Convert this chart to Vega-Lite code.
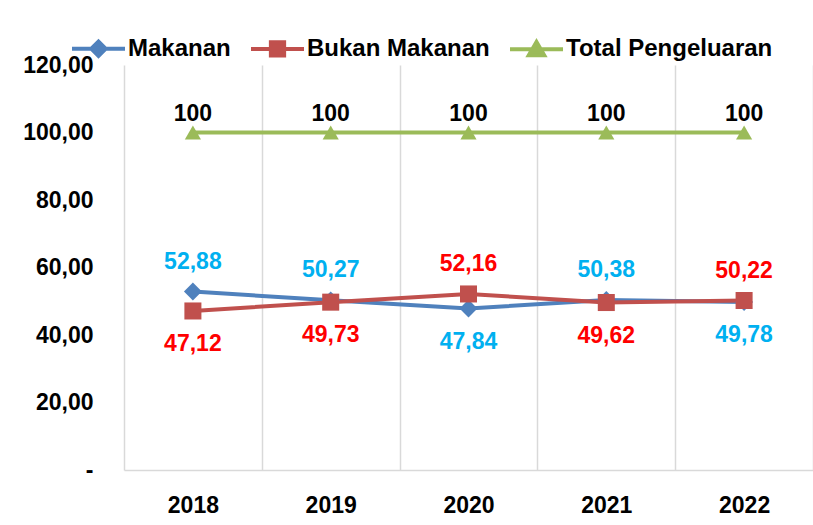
{
  "$schema": "https://vega.github.io/schema/vega-lite/v6.json",
  "width": 689,
  "height": 405,
  "autosize": {"type": "none"},
  "padding": {"left": 124, "top": 65, "right": 0, "bottom": 55},
  "background": "white",
  "config": {"view": {"stroke": null}, "font": "Liberation Sans"},
  "data": {
    "values": [
      {"year": "2018", "series": "Makanan", "value": 52.88},
      {"year": "2019", "series": "Makanan", "value": 50.27},
      {"year": "2020", "series": "Makanan", "value": 47.84},
      {"year": "2021", "series": "Makanan", "value": 50.38},
      {"year": "2022", "series": "Makanan", "value": 49.78},
      {"year": "2018", "series": "Bukan Makanan", "value": 47.12},
      {"year": "2019", "series": "Bukan Makanan", "value": 49.73},
      {"year": "2020", "series": "Bukan Makanan", "value": 52.16},
      {"year": "2021", "series": "Bukan Makanan", "value": 49.62},
      {"year": "2022", "series": "Bukan Makanan", "value": 50.22},
      {"year": "2018", "series": "Total Pengeluaran", "value": 100},
      {"year": "2019", "series": "Total Pengeluaran", "value": 100},
      {"year": "2020", "series": "Total Pengeluaran", "value": 100},
      {"year": "2021", "series": "Total Pengeluaran", "value": 100},
      {"year": "2022", "series": "Total Pengeluaran", "value": 100}
    ]
  },
  "encoding": {
    "x": {
      "field": "year",
      "type": "ordinal",
      "scale": {"type": "band", "paddingInner": 0, "paddingOuter": 0},
      "axis": {
        "title": null,
        "labelAngle": 0,
        "labelFont": "Liberation Sans",
        "labelFontSize": 23,
        "labelFontWeight": "bold",
        "labelColor": "#000000",
        "labelPadding": 24,
        "ticks": false,
        "tickSize": 0,
        "tickBand": "extent",
        "grid": true,
        "gridColor": "#D9D9D9",
        "gridWidth": 1.5,
        "domainColor": "#D9D9D9",
        "domainWidth": 1.5
      }
    },
    "y": {
      "field": "value",
      "type": "quantitative",
      "scale": {"domain": [0, 120], "nice": false},
      "axis": {
        "title": null,
        "values": [0, 20, 40, 60, 80, 100, 120],
        "labelExpr": "datum.value == 0 ? '-' : replace(format(datum.value, '.2f'), '.', ',')",
        "labelFont": "Liberation Sans",
        "labelFontSize": 23,
        "labelFontWeight": "bold",
        "labelColor": "#000000",
        "labelPadding": 31,
        "ticks": false,
        "tickSize": 0,
        "domain": false,
        "grid": false
      }
    }
  },
  "layer": [
    {
      "mark": {"type": "line", "strokeWidth": 4},
      "encoding": {
        "color": {
          "field": "series",
          "type": "nominal",
          "scale": {
            "domain": ["Makanan", "Bukan Makanan", "Total Pengeluaran"],
            "range": ["#4F81BD", "#C0504D", "#9BBB59"]
          },
          "legend": {
            "title": null,
            "orient": "none",
            "direction": "horizontal",
            "legendX": -54,
            "legendY": -45,
            "padding": 0,
            "labelFont": "Liberation Sans",
            "labelFontSize": 24,
            "labelFontWeight": "bold",
            "labelColor": "#000000",
            "labelLimit": 0,
            "labelOffset": 1,
            "columnPadding": 12,
            "symbolSize": 2809,
            "symbolStrokeWidth": 4,
            "encode": {
              "symbols": {
                "update": {
                  "shape": {"signal": "datum.value === 'Makanan' ? 'M-1,0L1,0M-0.27,0L0,-0.27L0.27,0L0,0.27Z' : datum.value === 'Bukan Makanan' ? 'M-1,0L1,0M-0.25,-0.25L0.25,-0.25L0.25,0.25L-0.25,0.25Z' : 'M-1,0L1,0M0,-0.28L0.29,0.22L-0.29,0.22Z'"},
                  "fill": {"signal": "scale('color', datum.value)"},
                  "stroke": {"signal": "scale('color', datum.value)"},
                  "strokeWidth": {"value": 4},
                  "size": {"value": 2809},
                  "opacity": {"value": 1}
                }
              }
            }
          }
        }
      }
    },
    {
      "transform": [{"calculate": "datum.series", "as": "kind"}],
      "mark": {"type": "point", "filled": true, "opacity": 1},
      "encoding": {
        "fill": {
          "field": "kind",
          "type": "nominal",
          "scale": {
            "domain": ["Total Pengeluaran", "Makanan", "Bukan Makanan"],
            "range": ["#9BBB59", "#4F81BD", "#C0504D"]
          },
          "legend": null
        },
        "shape": {
          "field": "kind",
          "type": "nominal",
          "scale": {
            "domain": ["Bukan Makanan", "Total Pengeluaran", "Makanan"],
            "range": ["square", "triangle-up", "diamond"]
          },
          "legend": null
        },
        "size": {
          "field": "kind",
          "type": "nominal",
          "scale": {
            "domain": ["Total Pengeluaran", "Bukan Makanan", "Makanan"],
            "range": [260, 320, 260]
          },
          "legend": null
        }
      }
    },
    {
      "transform": [
        {"filter": "datum.series !== 'Total Pengeluaran'"},
        {"joinaggregate": [{"op": "max", "field": "value", "as": "mx"}], "groupby": ["year"]},
        {"filter": "datum.value === datum.mx"},
        {"calculate": "replace(format(datum.value, '.2f'), '.', ',')", "as": "lbl"}
      ],
      "mark": {"type": "text", "font": "Liberation Sans", "fontSize": 23, "fontWeight": "bold", "dy": -30},
      "encoding": {
        "text": {"field": "lbl"},
        "fill": {
          "field": "series",
          "type": "nominal",
          "scale": {"domain": ["Makanan", "Bukan Makanan"], "range": ["#00B0F0", "#FF0000"]},
          "legend": null
        }
      }
    },
    {
      "transform": [
        {"filter": "datum.series !== 'Total Pengeluaran'"},
        {"joinaggregate": [{"op": "max", "field": "value", "as": "mx"}], "groupby": ["year"]},
        {"filter": "datum.value < datum.mx"},
        {"calculate": "replace(format(datum.value, '.2f'), '.', ',')", "as": "lbl"}
      ],
      "mark": {"type": "text", "font": "Liberation Sans", "fontSize": 23, "fontWeight": "bold", "dy": 33},
      "encoding": {
        "text": {"field": "lbl"},
        "fill": {
          "field": "series",
          "type": "nominal",
          "scale": {"domain": ["Makanan", "Bukan Makanan"], "range": ["#00B0F0", "#FF0000"]},
          "legend": null
        }
      }
    },
    {
      "transform": [{"filter": "datum.series === 'Total Pengeluaran'"}],
      "mark": {"type": "text", "font": "Liberation Sans", "fontSize": 23, "fontWeight": "bold", "dy": -19, "color": "#000000"},
      "encoding": {
        "text": {"field": "value", "type": "quantitative", "format": "d"}
      }
    }
  ],
  "resolve": {"scale": {"fill": "independent"}}
}
